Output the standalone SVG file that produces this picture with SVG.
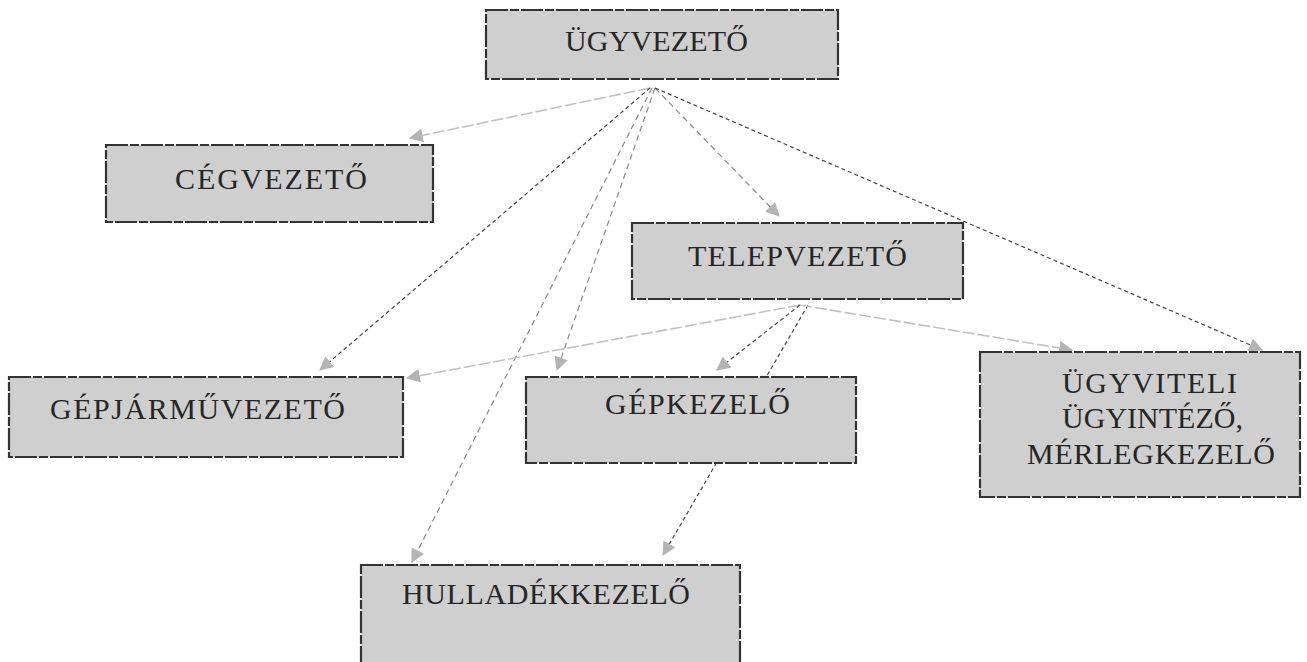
<svg xmlns="http://www.w3.org/2000/svg" width="1307" height="662" viewBox="0 0 1307 662">
<defs>
<style>
.box{fill:#cfcfcf;stroke:#333;stroke-width:2.2;stroke-dasharray:22 2 9 2}
.lbl{font-family:"Liberation Serif","Times New Roman",serif;font-size:30px;fill:#262626;text-anchor:start}
.dark{fill:none;stroke:#444;stroke-width:1.2;stroke-dasharray:4 3}
.light{fill:none;stroke:#c2c2c2;stroke-width:1.6;stroke-dasharray:12 3}
.mid{fill:none;stroke:#8a8a8a;stroke-width:1.2;stroke-dasharray:6 4}
</style>
<marker id="ah" viewBox="0 0 12 12" refX="11" refY="6" markerWidth="14" markerHeight="14" markerUnits="userSpaceOnUse" orient="auto">
<path d="M0,0 L12,6 L0,12 Z" fill="#b4b4b4"/>
</marker>
</defs>
<rect width="1307" height="662" fill="#ffffff"/>
<g id="connectors">
<line class="light" x1="650" y1="88" x2="410" y2="138" marker-end="url(#ah)"/>
<line class="dark" x1="650" y1="88" x2="320" y2="370" marker-end="url(#ah)"/>
<line class="mid" x1="652" y1="88" x2="412" y2="562" marker-end="url(#ah)"/>
<line class="mid" x1="655" y1="88" x2="557" y2="370" marker-end="url(#ah)"/>
<line class="mid" x1="655" y1="88" x2="779" y2="216" marker-end="url(#ah)"/>
<line class="dark" x1="655" y1="88" x2="1262" y2="350" marker-end="url(#ah)"/>
<line class="light" x1="800" y1="305" x2="407" y2="378" marker-end="url(#ah)"/>
<line class="dark" x1="800" y1="305" x2="717" y2="370" marker-end="url(#ah)"/>
<line class="dark" x1="808" y1="305" x2="663" y2="555" marker-end="url(#ah)"/>
<line class="light" x1="800" y1="305" x2="1072" y2="350" marker-end="url(#ah)"/>
</g>
<g id="ugyvezeto">
<rect class="box" x="486" y="10" width="352" height="69"/>
<text class="lbl" x="565" y="51" textLength="183" lengthAdjust="spacing">ÜGYVEZETŐ</text>
</g>
<g id="cegvezeto">
<rect class="box" x="106" y="145" width="327" height="77"/>
<text class="lbl" x="175" y="189" textLength="192" lengthAdjust="spacing">CÉGVEZETŐ</text>
</g>
<g id="telepvezeto">
<rect class="box" x="632" y="223" width="331" height="76"/>
<text class="lbl" x="688" y="266" textLength="219" lengthAdjust="spacing">TELEPVEZETŐ</text>
</g>
<g id="gepjarmuvezeto">
<rect class="box" x="9" y="377" width="394" height="80"/>
<text class="lbl" x="50" y="419" textLength="295" lengthAdjust="spacing">GÉPJÁRMŰVEZETŐ</text>
</g>
<g id="gepkezelo">
<rect class="box" x="526" y="377" width="330" height="86"/>
<text class="lbl" x="605" y="414" textLength="185" lengthAdjust="spacing">GÉPKEZELŐ</text>
</g>
<g id="ugyviteli">
<rect class="box" x="980" y="352" width="320" height="145"/>
<text class="lbl" x="1062" y="393" textLength="175" lengthAdjust="spacing">ÜGYVITELI</text>
<text class="lbl" x="1062" y="428" textLength="181" lengthAdjust="spacing">ÜGYINTÉZŐ,</text>
<text class="lbl" x="1027" y="464" textLength="248" lengthAdjust="spacing">MÉRLEGKEZELŐ</text>
</g>
<g id="hulladekkezelo">
<rect class="box" x="361" y="565" width="379" height="110"/>
<text class="lbl" x="402" y="604" textLength="288" lengthAdjust="spacing">HULLADÉKKEZELŐ</text>
</g>
</svg>
